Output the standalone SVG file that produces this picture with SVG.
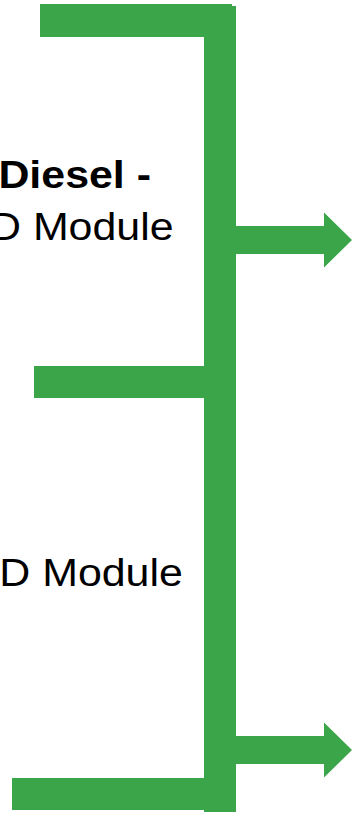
<svg xmlns="http://www.w3.org/2000/svg" width="352" height="814" viewBox="0 0 352 814">
  <style>
    .flow { fill: #3ba54a; stroke: none; }
    .lbl { font-family: "Liberation Sans", Arial, sans-serif; font-size: 39px; fill: #000; }
    .bold { font-weight: bold; }
  </style>
  <defs>
    <!-- block arrow pointing right, origin at the start of the shaft centre line -->
    <polygon id="arrowRight" points="0,-14 88,-14 88,-27.5 116,0 88,27.5 88,14 0,14"/>
  </defs>

  <!-- labels -->
  <g id="node-diesel">
    <text class="lbl bold" transform="translate(-1.6,188) scale(1.1,1)">Diesel -</text>
    <text class="lbl" transform="translate(-10,240) scale(1.1,1)">D Module</text>
  </g>
  <g id="node-module">
    <text class="lbl" transform="translate(-0.7,585.7) scale(1.1,1)">D Module</text>
  </g>

  <!-- bracket lines and outgoing arrows -->
  <g id="connectors" class="flow">
    <rect x="40" y="4" width="192" height="33"/>
    <rect x="204" y="6" width="32" height="806"/>
    <rect x="34" y="366" width="172" height="32"/>
    <rect x="12" y="778" width="194" height="32"/>
    <use href="#arrowRight" x="236" y="240"/>
    <use href="#arrowRight" x="236" y="750"/>
  </g>
</svg>
